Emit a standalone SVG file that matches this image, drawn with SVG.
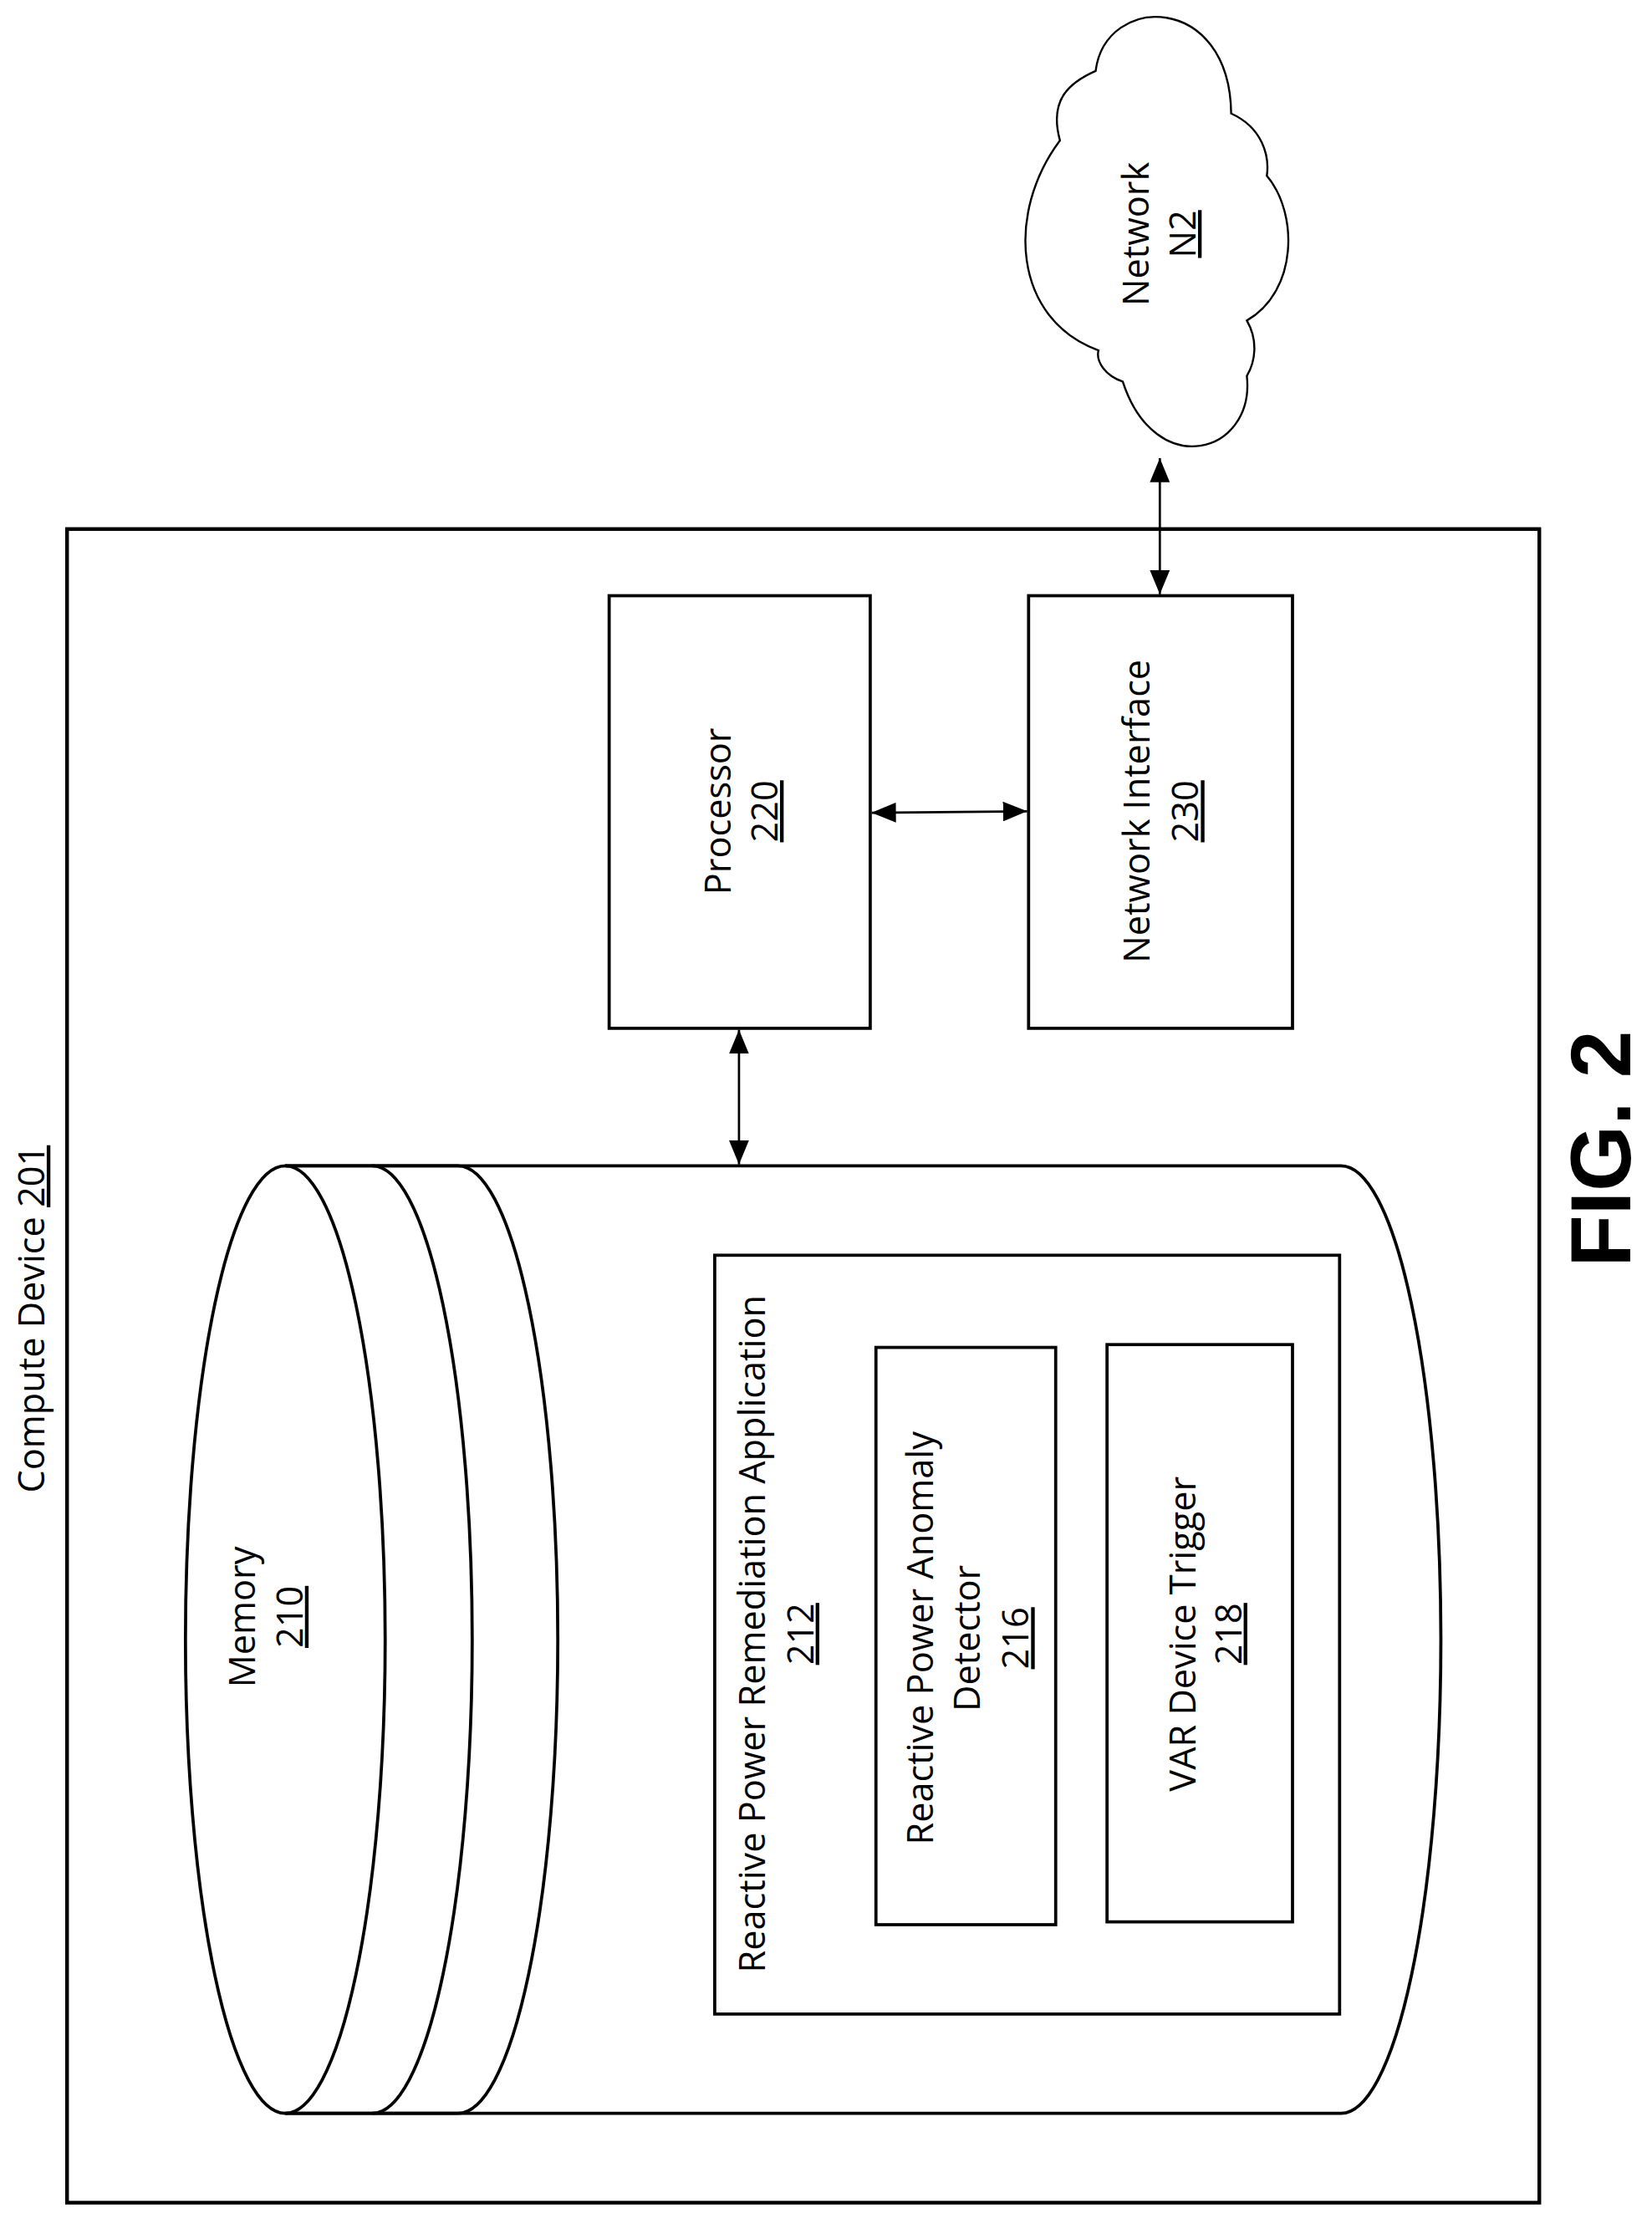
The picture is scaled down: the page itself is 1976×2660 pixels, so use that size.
<svg xmlns="http://www.w3.org/2000/svg" width="1976" height="2660" viewBox="0 0 1976 2660">
<style>
.b{fill:none;stroke:#000;stroke-width:2.2}
.t{font-family:"Open Sans","Liberation Sans",sans-serif;font-size:25.5px;text-anchor:middle;fill:#000}
.u{text-decoration:underline}
.c{fill:none;stroke:#000;stroke-width:1.4}
</style>
<defs>
<marker id="a" markerUnits="userSpaceOnUse" markerWidth="17" markerHeight="14" refX="17" refY="7" orient="auto-start-reverse" viewBox="0 0 17 14"><path d="M0,0L17,7L0,14Z" fill="#000"/></marker>
</defs>
<rect width="1976" height="2660" fill="#fff"/>
<g transform="scale(1.7064 1.6964)">
<g id="compute-device">
<rect class="b" x="47" y="373" width="1032" height="1180" style="stroke-width:2.6"/>
<text class="t" transform="translate(31,930) rotate(-90)">Compute Device <tspan class="u">201</tspan></text>
</g>
<g id="processor">
<rect class="b" x="427" y="420" width="183" height="305"/>
<text class="t" transform="translate(512,572) rotate(-90)">Processor</text>
<text class="t u" transform="translate(545,572) rotate(-90)">220</text>
</g>
<g id="network-interface">
<rect class="b" x="721" y="420" width="185" height="305"/>
<text class="t" transform="translate(806,572) rotate(-90)">Network Interface</text>
<text class="t u" transform="translate(840,572) rotate(-90)">230</text>
</g>
<g id="network">
<path class="c" d="M768,50 C775,-5 862,-5 863,80 C885,90 890,110 888,124 C910,150 910,205 874,226 C882,240 880,255 874,265 C880,320 810,340 787,269 C775,265 768,255 770,247 C710,225 705,150 743,99 C735,70 750,58 768,50 Z"/>
<text class="t" transform="translate(805,165) rotate(-90)">Network</text>
<text class="t u" transform="translate(838,165) rotate(-90)">N2</text>
</g>
<g id="memory">
<path class="b" d="M200,822 L940,822 A70,334 0 0 1 940,1490 L200,1490"/>
<ellipse class="b" cx="200" cy="1156" rx="70" ry="334"/>
<path class="b" d="M200,822 L261,822 A70,334 0 0 1 261,1490 L200,1490"/>
<path class="b" d="M261,822 L321,822 A70,334 0 0 1 321,1490 L261,1490"/>
<text class="t" transform="translate(179,1140) rotate(-90)">Memory</text>
<text class="t u" transform="translate(212,1140) rotate(-90)">210</text>
</g>
<g id="app">
<rect class="b" x="501" y="885" width="438" height="535"/>
<text class="t" transform="translate(536,1152) rotate(-90)">Reactive Power Remediation Application</text>
<text class="t u" transform="translate(570,1152) rotate(-90)">212</text>
</g>
<g id="detector">
<rect class="b" x="614" y="950" width="126" height="407"/>
<text class="t" transform="translate(654,1155) rotate(-90)">Reactive Power Anomaly</text>
<text class="t" transform="translate(687,1155) rotate(-90)">Detector</text>
<text class="t u" transform="translate(721,1155) rotate(-90)">216</text>
</g>
<g id="var-trigger">
<rect class="b" x="776" y="948" width="130" height="407"/>
<text class="t" transform="translate(838,1152) rotate(-90)">VAR Device Trigger</text>
<text class="t u" transform="translate(870,1152) rotate(-90)">218</text>
</g>
<g id="connectors" stroke="#000" stroke-width="1.6" fill="none">
<line x1="611" y1="573" x2="720" y2="572" marker-start="url(#a)" marker-end="url(#a)"/>
<line x1="518" y1="726" x2="518" y2="821" marker-start="url(#a)" marker-end="url(#a)"/>
<line x1="813" y1="323" x2="813" y2="419" marker-start="url(#a)" marker-end="url(#a)"/>
</g>
<text transform="translate(1143,810) rotate(-90)" style="font-family:'Liberation Sans',Arial,sans-serif;font-weight:bold;font-size:60px;text-anchor:middle">FIG. 2</text>
</g>
</svg>
